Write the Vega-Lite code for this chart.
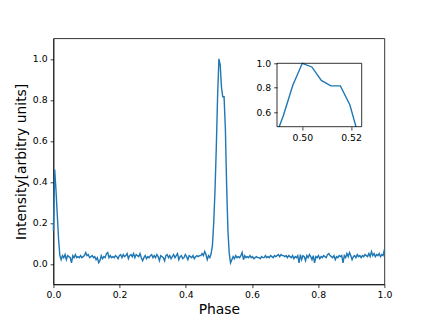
{
"$schema": "https://vega.github.io/schema/vega-lite/v6.json",
"width": 331,
"height": 246,
"autosize": "none",
"padding": {"left": 53.4, "top": 38.3, "right": 42.6, "bottom": 34.7},
"background": "white",
"config": {
  "view": {"stroke": "black", "strokeWidth": 0.8},
  "font": "DejaVu Sans",
  "axis": {"grid": false, "labelFont": "DejaVu Sans", "labelFontSize": 9.3, "labelColor": "black", "tickColor": "black", "tickSize": 3.3, "tickWidth": 0.75, "labelPadding": 3, "domainColor": "black", "domainWidth": 0.75, "titleFont": "DejaVu Sans", "titleFontSize": 13.9, "titleFontWeight": "normal", "titleColor": "black", "labelFlush": false, "labelOverlap": false}
},
"datasets": {"prof": [
{"p":0,"v":0.16},{"p":0.00391,"v":0.46},{"p":0.00781,"v":0.36},{"p":0.01172,"v":0.24},{"p":0.01563,"v":0.12},{"p":0.01953,"v":0.04},{"p":0.02344,"v":0.02},{"p":0.02734,"v":0.04},{"p":0.03125,"v":0.03},{"p":0.03516,"v":0.045},{"p":0.03906,"v":0.02},{"p":0.04297,"v":0.04},{"p":0.04688,"v":0.035},{"p":0.05078,"v":0.03},{"p":0.05469,"v":0.005},{"p":0.05859,"v":0.04},
{"p":0.0625,"v":0.03},{"p":0.06641,"v":0.045},{"p":0.07031,"v":0.03},{"p":0.07422,"v":0.035},{"p":0.07813,"v":0.03},{"p":0.08203,"v":0.04},{"p":0.08594,"v":0.03},{"p":0.08984,"v":0.035},{"p":0.09375,"v":0.04},{"p":0.09766,"v":0.055},{"p":0.10156,"v":0.04},{"p":0.10547,"v":0.045},{"p":0.10938,"v":0.03},{"p":0.11328,"v":0.035},{"p":0.11719,"v":0.04},{"p":0.12109,"v":0.03},
{"p":0.125,"v":0.035},{"p":0.12891,"v":0.02},{"p":0.13281,"v":0.03},{"p":0.13672,"v":0.005},{"p":0.14063,"v":0.015},{"p":0.14453,"v":0.04},{"p":0.14844,"v":0.025},{"p":0.15234,"v":0.035},{"p":0.15625,"v":0.03},{"p":0.16016,"v":0.05},{"p":0.16406,"v":0.055},{"p":0.16797,"v":0.03},{"p":0.17188,"v":0.04},{"p":0.17578,"v":0.03},{"p":0.17969,"v":0.035},{"p":0.18359,"v":0.03},
{"p":0.1875,"v":0.04},{"p":0.19141,"v":0.035},{"p":0.19531,"v":0.025},{"p":0.19922,"v":0.04},{"p":0.20313,"v":0.045},{"p":0.20703,"v":0.03},{"p":0.21094,"v":0.045},{"p":0.21484,"v":0.035},{"p":0.21875,"v":0.04},{"p":0.22266,"v":0.05},{"p":0.22656,"v":0.025},{"p":0.23047,"v":0.04},{"p":0.23438,"v":0.045},{"p":0.23828,"v":0.035},{"p":0.24219,"v":0.05},{"p":0.24609,"v":0.03},
{"p":0.25,"v":0.045},{"p":0.25391,"v":0.04},{"p":0.25781,"v":0.035},{"p":0.26172,"v":0.05},{"p":0.26563,"v":0.03},{"p":0.26953,"v":0.015},{"p":0.27344,"v":0.03},{"p":0.27734,"v":0.04},{"p":0.28125,"v":0.025},{"p":0.28516,"v":0.035},{"p":0.28906,"v":0.03},{"p":0.29297,"v":0.04},{"p":0.29688,"v":0.045},{"p":0.30078,"v":0.03},{"p":0.30469,"v":0.04},{"p":0.30859,"v":0.03},
{"p":0.3125,"v":0.045},{"p":0.31641,"v":0.035},{"p":0.32031,"v":0.015},{"p":0.32422,"v":0.04},{"p":0.32813,"v":0.035},{"p":0.33203,"v":0.03},{"p":0.33594,"v":0.015},{"p":0.33984,"v":0.04},{"p":0.34375,"v":0.045},{"p":0.34766,"v":0.03},{"p":0.35156,"v":0.04},{"p":0.35547,"v":0.025},{"p":0.35938,"v":0.035},{"p":0.36328,"v":0.045},{"p":0.36719,"v":0.03},{"p":0.37109,"v":0.04},
{"p":0.375,"v":0.05},{"p":0.37891,"v":0.02},{"p":0.38281,"v":0.035},{"p":0.38672,"v":0.04},{"p":0.39063,"v":0.025},{"p":0.39453,"v":0.03},{"p":0.39844,"v":0.045},{"p":0.40234,"v":0.035},{"p":0.40625,"v":0.02},{"p":0.41016,"v":0.04},{"p":0.41406,"v":0.035},{"p":0.41797,"v":0.03},{"p":0.42188,"v":0.04},{"p":0.42578,"v":0.025},{"p":0.42969,"v":0.035},{"p":0.43359,"v":0.04},
{"p":0.4375,"v":0.035},{"p":0.44141,"v":0.04},{"p":0.44531,"v":0.04},{"p":0.44922,"v":0.05},{"p":0.45313,"v":0.04},{"p":0.45703,"v":0.06},{"p":0.46094,"v":0.045},{"p":0.46484,"v":0.02},{"p":0.46875,"v":0.04},{"p":0.47266,"v":0.03},{"p":0.47656,"v":0.05},{"p":0.48047,"v":0.09},{"p":0.48438,"v":0.2},{"p":0.48828,"v":0.36},{"p":0.49219,"v":0.57},{"p":0.49609,"v":0.82},
{"p":0.5,"v":1.0},{"p":0.50391,"v":0.97},{"p":0.50781,"v":0.86},{"p":0.51172,"v":0.815},{"p":0.51563,"v":0.815},{"p":0.51953,"v":0.66},{"p":0.52344,"v":0.38},{"p":0.52734,"v":0.16},{"p":0.53125,"v":0.05},{"p":0.53516,"v":0.005},{"p":0.53906,"v":0.02},{"p":0.54297,"v":0.035},{"p":0.54688,"v":0.025},{"p":0.55078,"v":0.04},{"p":0.55469,"v":0.03},{"p":0.55859,"v":0.035},
{"p":0.5625,"v":0.03},{"p":0.56641,"v":0.04},{"p":0.57031,"v":0.055},{"p":0.57422,"v":0.02},{"p":0.57813,"v":0.04},{"p":0.58203,"v":0.03},{"p":0.58594,"v":0.035},{"p":0.58984,"v":0.03},{"p":0.59375,"v":0.04},{"p":0.59766,"v":0.03},{"p":0.60156,"v":0.035},{"p":0.60547,"v":0.025},{"p":0.60938,"v":0.03},{"p":0.61328,"v":0.035},{"p":0.61719,"v":0.03},{"p":0.62109,"v":0.03},
{"p":0.625,"v":0.025},{"p":0.62891,"v":0.035},{"p":0.63281,"v":0.03},{"p":0.63672,"v":0.03},{"p":0.64063,"v":0.04},{"p":0.64453,"v":0.03},{"p":0.64844,"v":0.035},{"p":0.65234,"v":0.03},{"p":0.65625,"v":0.04},{"p":0.66016,"v":0.035},{"p":0.66406,"v":0.03},{"p":0.66797,"v":0.04},{"p":0.67188,"v":0.035},{"p":0.67578,"v":0.04},{"p":0.67969,"v":0.045},{"p":0.68359,"v":0.035},
{"p":0.6875,"v":0.045},{"p":0.69141,"v":0.04},{"p":0.69531,"v":0.04},{"p":0.69922,"v":0.035},{"p":0.70313,"v":0.04},{"p":0.70703,"v":0.03},{"p":0.71094,"v":0.04},{"p":0.71484,"v":0.035},{"p":0.71875,"v":0.03},{"p":0.72266,"v":0.04},{"p":0.72656,"v":0.025},{"p":0.73047,"v":0.035},{"p":0.73438,"v":0.03},{"p":0.73828,"v":0.04},{"p":0.74219,"v":0.005},{"p":0.74609,"v":0.045},
{"p":0.75,"v":0.02},{"p":0.75391,"v":0.04},{"p":0.75781,"v":0.035},{"p":0.76172,"v":0.015},{"p":0.76563,"v":0.04},{"p":0.76953,"v":0.03},{"p":0.77344,"v":0.045},{"p":0.77734,"v":0.035},{"p":0.78125,"v":0.02},{"p":0.78516,"v":0.04},{"p":0.78906,"v":0.005},{"p":0.79297,"v":0.035},{"p":0.79688,"v":0.03},{"p":0.80078,"v":0.04},{"p":0.80469,"v":0.025},{"p":0.80859,"v":0.035},
{"p":0.8125,"v":0.03},{"p":0.81641,"v":0.04},{"p":0.82031,"v":0.035},{"p":0.82422,"v":0.03},{"p":0.82813,"v":0.045},{"p":0.83203,"v":0.05},{"p":0.83594,"v":0.04},{"p":0.83984,"v":0.035},{"p":0.84375,"v":0.03},{"p":0.84766,"v":0.04},{"p":0.85156,"v":0.02},{"p":0.85547,"v":0.035},{"p":0.85938,"v":0.03},{"p":0.86328,"v":0.04},{"p":0.86719,"v":0.035},{"p":0.87109,"v":0.04},
{"p":0.875,"v":0.005},{"p":0.87891,"v":0.04},{"p":0.88281,"v":0.03},{"p":0.88672,"v":0.05},{"p":0.89063,"v":0.035},{"p":0.89453,"v":0.055},{"p":0.89844,"v":0.04},{"p":0.90234,"v":0.02},{"p":0.90625,"v":0.035},{"p":0.91016,"v":0.04},{"p":0.91406,"v":0.03},{"p":0.91797,"v":0.045},{"p":0.92188,"v":0.035},{"p":0.92578,"v":0.04},{"p":0.92969,"v":0.03},{"p":0.93359,"v":0.04},
{"p":0.9375,"v":0.035},{"p":0.94141,"v":0.045},{"p":0.94531,"v":0.04},{"p":0.94922,"v":0.035},{"p":0.95313,"v":0.05},{"p":0.95703,"v":0.035},{"p":0.96094,"v":0.06},{"p":0.96484,"v":0.04},{"p":0.96875,"v":0.05},{"p":0.97266,"v":0.035},{"p":0.97656,"v":0.045},{"p":0.98047,"v":0.04},{"p":0.98438,"v":0.05},{"p":0.98828,"v":0.035},{"p":0.99219,"v":0.045},{"p":0.99609,"v":0.04},
{"p":1.0,"v":0.07}
]},
"layer": [
  {
    "data": {"name": "prof"},
    "mark": {"type": "line", "color": "#1f77b4", "strokeWidth": 1.4},
    "encoding": {
      "x": {"field": "p", "type": "quantitative", "scale": {"domain": [0, 1], "nice": false, "zero": false},
            "axis": {"orient": "bottom", "title": "Phase", "values": [0, 0.2, 0.4, 0.6, 0.8, 1.0], "format": ".1f", "titlePadding": 3}},
      "y": {"field": "v", "type": "quantitative", "scale": {"domain": [-0.1, 1.1], "nice": false, "zero": false},
            "axis": {"orient": "left", "title": "Intensity[arbitry units]", "values": [0, 0.2, 0.4, 0.6, 0.8, 1.0], "format": ".1f", "titlePadding": 4}}
    }
  },
  {
    "layer": [
      {
        "data": {"name": "prof"},
        "transform": [{"filter": "datum.p > 0.486 && datum.p < 0.525"}],
        "mark": {"type": "line", "color": "#1f77b4", "strokeWidth": 1.4},
        "encoding": {
          "x": {"field": "p", "type": "quantitative", "scale": {"domain": [0.4896, 0.5244], "range": [223.6, 308.3], "nice": false, "zero": false},
                "axis": {"orient": "bottom", "offset": -157.6, "title": null, "values": [0.5, 0.52], "format": ".2f", "domain": false, "zindex": 2}},
          "y": {"field": "v", "type": "quantitative", "scale": {"domain": [0.48, 1.0], "range": [88.4, 25], "nice": false, "zero": false},
                "axis": {"orient": "left", "offset": -223.6, "title": null, "values": [0.6, 0.8, 1.0], "format": ".1f", "domain": false, "zindex": 2}}
        }
      },
      {
        "data": {"values": [{}]},
        "mark": {"type": "rect", "fill": "white", "stroke": null},
        "encoding": {
          "x": {"datum": 0.486, "type": "quantitative", "scale": {"domain": [0.4896, 0.5244], "range": [223.6, 308.3], "nice": false, "zero": false},
                "axis": {"orient": "bottom", "offset": -157.6, "title": null, "values": [0.5, 0.52], "format": ".2f", "domain": false, "zindex": 2}},
          "x2": {"datum": 0.527},
          "y": {"datum": 0.3, "type": "quantitative", "scale": {"domain": [0.48, 1.0], "range": [88.4, 25], "nice": false, "zero": false},
                "axis": {"orient": "left", "offset": -223.6, "title": null, "values": [0.6, 0.8, 1.0], "format": ".1f", "domain": false, "zindex": 2}},
          "y2": {"datum": 0.4785}
        }
      },
      {
        "data": {"values": [{}]},
        "mark": {"type": "rect", "fill": null, "fillOpacity": 0, "stroke": "black", "strokeWidth": 0.8},
        "encoding": {
          "x": {"datum": 0.4896, "type": "quantitative", "scale": {"domain": [0.4896, 0.5244], "range": [223.6, 308.3], "nice": false, "zero": false},
                "axis": {"orient": "bottom", "offset": -157.6, "title": null, "values": [0.5, 0.52], "format": ".2f", "domain": false, "zindex": 2}},
          "x2": {"datum": 0.5244},
          "y": {"datum": 0.48, "type": "quantitative", "scale": {"domain": [0.48, 1.0], "range": [88.4, 25], "nice": false, "zero": false},
                "axis": {"orient": "left", "offset": -223.6, "title": null, "values": [0.6, 0.8, 1.0], "format": ".1f", "domain": false, "zindex": 2}},
          "y2": {"datum": 1.0}
        }
      }
    ]
  }
],
"resolve": {"scale": {"x": "independent", "y": "independent"}, "axis": {"x": "independent", "y": "independent"}}
}
